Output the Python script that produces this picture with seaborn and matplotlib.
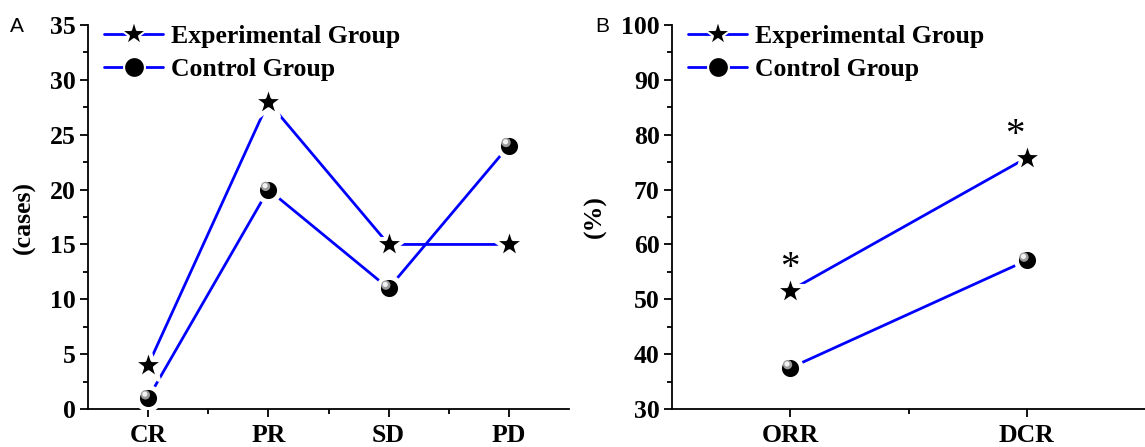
import matplotlib
matplotlib.use("Agg")
import matplotlib.pyplot as plt
import matplotlib.transforms as mtransforms
from matplotlib.lines import Line2D
from matplotlib.ticker import MultipleLocator, AutoMinorLocator, FixedLocator
import seaborn as sns
import pandas as pd

# ---------------- data ----------------
cats_a = ["CR", "PR", "SD", "PD"]
exp_a = [4, 28, 15, 15]
ctrl_a = [1, 20, 11, 24]

cats_b = ["ORR", "DCR"]
exp_b = [51.6, 75.8]
ctrl_b = [37.5, 57.1]

groups = ["Experimental Group", "Control Group"]
ylabel_a = "(cases)"
ylabel_b = "(%)"

sns.set_theme(style="ticks")
plt.rcParams["font.family"] = ["Liberation Serif", "DejaVu Serif"]
plt.rcParams["font.weight"] = "bold"
plt.rcParams["text.color"] = "black"
plt.rcParams["axes.labelcolor"] = "black"
plt.rcParams["xtick.color"] = "black"
plt.rcParams["ytick.color"] = "black"

fig = plt.figure(figsize=(11.45, 4.47), dpi=100)
axA = fig.add_axes([0.0769, 0.085, 0.420, 0.859])
axB = fig.add_axes([0.587, 0.085, 0.413, 0.859])

LINE = "#0000FF"
FS = 18.5


def sphere(ax, x, y):
    df = pd.DataFrame({"x": x, "y": y})
    sns.scatterplot(data=df, x="x", y="y", ax=ax, marker="o", s=250, color="black",
                    edgecolor="white", linewidth=3.5, zorder=5, legend=False)
    for size, col, dx, dy in [(45, "#9a9a9a", -2.0, 2.3), (14, "#f2f2f2", -2.4, 2.8)]:
        tr = ax.transData + mtransforms.ScaledTranslation(dx / 72, dy / 72, fig.dpi_scale_trans)
        ax.scatter(df["x"], df["y"], s=size, color=col, edgecolor="none", zorder=6,
                   transform=tr)


def star(ax, x, y):
    df = pd.DataFrame({"x": x, "y": y})
    sns.scatterplot(data=df, x="x", y="y", ax=ax, marker="*", s=650, color="black",
                    edgecolor="white", linewidth=3.0, zorder=5, legend=False)


def panel(ax, cats, exp, ctrl, ylim, ymajor, ylabel, letter):
    idx = list(range(len(cats)))
    df = pd.DataFrame({"x": idx * 2, "y": list(exp) + list(ctrl),
                       "g": [groups[0]] * len(cats) + [groups[1]] * len(cats)})
    sns.lineplot(data=df, x="x", y="y", hue="g", palette=[LINE, LINE], ax=ax,
                 linewidth=2.0, legend=False, zorder=3)
    star(ax, idx, exp)
    sphere(ax, idx, ctrl)
    ax.set_xlim(-0.5, len(cats) - 0.5)
    ax.set_ylim(*ylim)
    ax.yaxis.set_major_locator(MultipleLocator(ymajor))
    ax.yaxis.set_minor_locator(AutoMinorLocator(2))
    ax.xaxis.set_major_locator(FixedLocator(idx))
    ax.xaxis.set_minor_locator(FixedLocator([i + 0.5 for i in idx[:-1]]))
    ax.set_xticklabels(cats)
    ax.set_xlabel("")
    ax.set_ylabel(ylabel, fontsize=FS, fontweight="bold", labelpad=10, color="black")
    for sp in ["top", "right"]:
        ax.spines[sp].set_visible(False)
    for sp in ["left", "bottom"]:
        ax.spines[sp].set_linewidth(1.3)
        ax.spines[sp].set_color("black")
    ax.tick_params(axis="both", which="major", direction="out", length=6, width=1.3,
                   labelsize=FS, colors="black", labelcolor="black")
    ax.tick_params(axis="both", which="minor", direction="out", length=3.5, width=1.3,
                   colors="black")
    ax.tick_params(axis="x", pad=5)
    ax.tick_params(axis="y", pad=3)
    for lab in ax.get_xticklabels() + ax.get_yticklabels():
        lab.set_fontweight("bold")
        lab.set_color("black")
    ax.text(-0.162, 0.995, letter, transform=ax.transAxes, fontsize=15,
            family=["Liberation Sans", "DejaVu Sans"], fontweight="normal",
            va="center", ha="left", color="black")
    handles = [
        Line2D([], [], color=LINE, lw=2.0, marker="*", markersize=20,
               markerfacecolor="black", markeredgecolor="white", markeredgewidth=1.5),
        Line2D([], [], color=LINE, lw=2.0, marker="o", markersize=15,
               markerfacecolor="black", markeredgecolor="white", markeredgewidth=1.5),
    ]
    leg = ax.legend(handles, groups, loc="upper left", bbox_to_anchor=(-0.015, 1.06),
                    frameon=False, prop={"size": FS, "weight": "bold"},
                    handlelength=2.3, handletextpad=0.3, labelspacing=0.38)
    for t in leg.get_texts():
        t.set_color("black")
    return ax


panel(axA, cats_a, exp_a, ctrl_a, (0, 35), 5, ylabel_a, "A")
panel(axB, cats_b, exp_b, ctrl_b, (30, 100), 10, ylabel_b, "B")

# significance asterisks
for i, v in enumerate(exp_b):
    dx = 0.0 if i == 0 else -0.05
    axB.text(i + dx, v + 4.0, "*", fontsize=28, ha="center", va="center",
             fontweight="normal", color="black")

fig.savefig("out.png", dpi=100)
